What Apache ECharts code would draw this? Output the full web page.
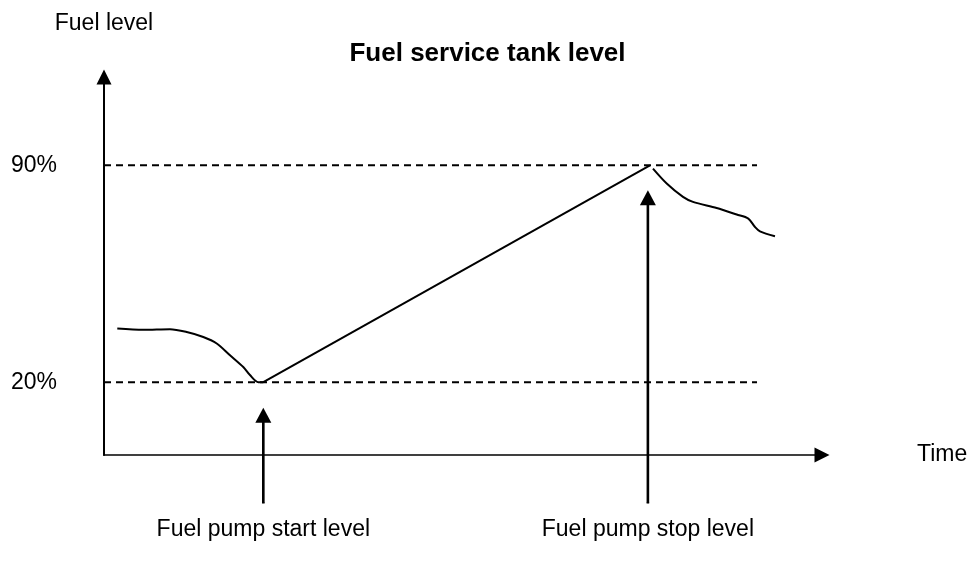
<!DOCTYPE html>
<html>
<head>
<meta charset="utf-8">
<script src="https://cdn.jsdelivr.net/npm/echarts@6/dist/echarts.min.js"></script>
<style>
  html, body { margin: 0; padding: 0; background: #fff; }
  #chart { width: 975px; height: 568px; }
</style>
</head>
<body>
<div id="chart"></div>
<script>
// Fuel level over time (time in arbitrary units 0..100, level in %)
const drawDownTime = [1.85, 5.47, 9.19, 11.52, 13.83, 15.70, 17.55, 19.40, 20.33, 21.49, 22.19];
const drawDownLevel = [37.3, 36.9, 37.1, 36.2, 34.6, 32.5, 28.7, 24.9, 22.3, 20.0, 20.0];

const fillTime = [22.19, 76.04];
const fillLevel = [20, 90];

const consumeTime = [76.46, 78.37, 80.64, 82.03, 85.33, 88.12, 89.74, 90.67, 91.36, 93.45];
const consumeLevel = [88.9, 84.1, 79.8, 78.2, 76.2, 74.1, 72.8, 70.1, 68.7, 67.1];

// Pump set points
const setPointLevels = [20, 90];
const setPointEnd = 90.95;

// Annotation arrows: [time, from level, to level (arrowhead centre)]
const pumpStartArrow = [22.19, -19, 9.3];
const pumpStopArrow = [75.75, -19, 79.5];
const arrowLabels = ['Fuel pump start level', 'Fuel pump stop level'];

const titleText = 'Fuel service tank level';
const yName = 'Fuel level';
const xName = 'Time';

const FONT = "'Liberation Sans', Arial, sans-serif";

function pairs(xs, ys) { return xs.map((x, i) => [x, ys[i]]); }

function arrowSeries(a, label) {
  return {
    type: 'line',
    clip: false,
    silent: true,
    showSymbol: true,
    lineStyle: { color: '#000', width: 2.6 },
    itemStyle: { color: '#000' },
    data: [
      {
        value: [a[0], a[1]],
        symbol: 'rect',
        symbolSize: [2.6, 1],
        label: {
          show: true,
          position: 'bottom',
          distance: 15,
          formatter: label,
          fontFamily: FONT,
          fontSize: 23,
          color: '#000'
        }
      },
      { value: [a[0], a[2]], symbol: 'triangle', symbolSize: [16, 15] }
    ]
  };
}

const chart = echarts.init(document.getElementById('chart'), null, { renderer: 'canvas' });

const option = {
  backgroundColor: '#ffffff',
  animation: false,
  title: {
    text: titleText,
    left: 'center',
    top: 36,
    textStyle: { fontFamily: FONT, fontSize: 26, fontWeight: 'bold', color: '#000' }
  },
  grid: { left: 104, right: 153, top: 77, bottom: 113 },
  xAxis: {
    type: 'value',
    min: 0,
    max: 100,
    name: xName,
    nameLocation: 'end',
    nameGap: 95,
    nameTextStyle: { fontFamily: FONT, fontSize: 23, color: '#000' },
    axisLine: {
      show: true,
      onZero: false,
      symbol: ['none', 'triangle'],
      symbolSize: [15, 15],
      lineStyle: { color: '#000', width: 1.7 }
    },
    axisTick: { show: false },
    axisLabel: { show: false },
    splitLine: { show: false }
  },
  yAxis: {
    type: 'value',
    min: -3.5,
    max: 118.5,
    name: yName,
    nameLocation: 'end',
    nameGap: 42,
    nameTextStyle: { fontFamily: FONT, fontSize: 23, color: '#000', align: 'center' },
    axisLine: {
      show: true,
      onZero: false,
      symbol: ['none', 'triangle'],
      symbolSize: [15, 15],
      lineStyle: { color: '#000', width: 2 }
    },
    axisTick: { show: false },
    axisLabel: {
      show: true,
      customValues: setPointLevels,
      formatter: '{value}%',
      margin: 47,
      fontFamily: FONT,
      fontSize: 23,
      color: '#000'
    },
    splitLine: { show: false }
  },
  series: [
    {
      type: 'line',
      data: pairs(drawDownTime, drawDownLevel),
      smooth: 0.3,
      showSymbol: false,
      lineStyle: { color: '#000', width: 2 }
    },
    {
      type: 'line',
      data: pairs(fillTime, fillLevel),
      showSymbol: false,
      lineStyle: { color: '#000', width: 2 }
    },
    {
      type: 'line',
      data: pairs(consumeTime, consumeLevel),
      smooth: 0.3,
      showSymbol: false,
      lineStyle: { color: '#000', width: 2 }
    },
    // dashed set point lines
    ...setPointLevels.map(v => ({
      type: 'line',
      data: [[0, v], [setPointEnd, v]],
      showSymbol: false,
      lineStyle: { color: '#000', width: 2, type: [7, 5] }
    })),
    // pump start / stop arrows with captions
    arrowSeries(pumpStartArrow, arrowLabels[0]),
    arrowSeries(pumpStopArrow, arrowLabels[1])
  ]
};

chart.setOption(option);
</script>
</body>
</html>
